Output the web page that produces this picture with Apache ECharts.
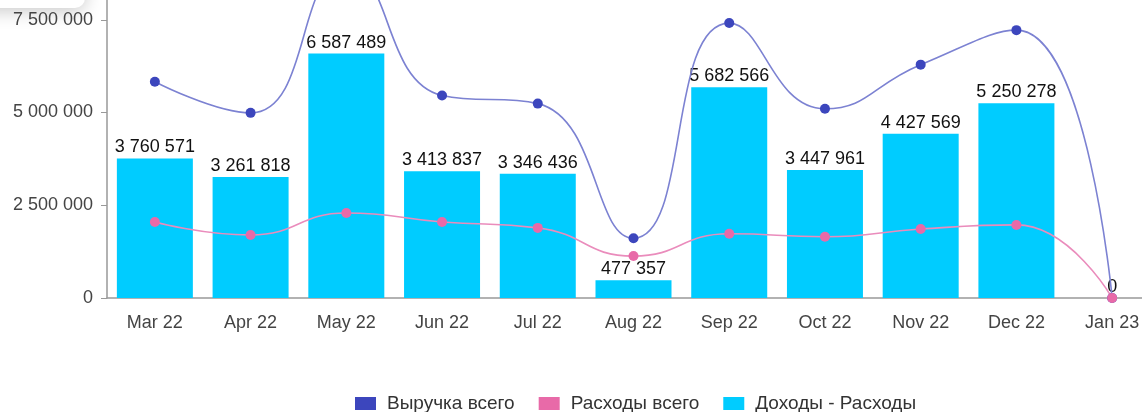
<!DOCTYPE html>
<html>
<head>
<meta charset="utf-8">
<script src="https://cdn.jsdelivr.net/npm/echarts@6/dist/echarts.min.js"></script>
<style>
  html, body { margin: 0; padding: 0; background: #fff; overflow: hidden; width: 1142px; height: 412px; position: relative; }
  /* the reference is a crop: the plot runs past the top and right edges */
  #chart { position: absolute; left: 0; top: -73px; width: 1160px; height: 485px; }
</style>
</head>
<body>
<div id="chart"></div>
<script>
// data
const months = ["Mar 22", "Apr 22", "May 22", "Jun 22", "Jul 22", "Aug 22", "Sep 22", "Oct 22", "Nov 22", "Dec 22", "Jan 23"];
const revenue = [5830000, 4990000, 8880000, 5460000, 5240000, 1610000, 7410000, 5100000, 6290000, 7220000, 0];
const expenses = [2050000, 1700000, 2290000, 2050000, 1890000, 1130000, 1730000, 1650000, 1860000, 1970000, 0];
const profit = [3760571, 3261818, 6587489, 3413837, 3346436, 477357, 5682566, 3447961, 4427569, 5250278, 0];
const seriesNames = ["Выручка всего", "Расходы всего", "Доходы - Расходы"];

const fmt = v => String(Math.round(v)).replace(/\B(?=(\d{3})+(?!\d))/g, " ");
const font = "Liberation Sans, Arial, sans-serif";

const chart = echarts.init(document.getElementById("chart"));
chart.setOption({
  animation: false,
  textStyle: { fontFamily: font },
  grid: { left: 107, right: 0, top: 0, bottom: 114, outerBoundsMode: "none" },
  // faint shadow of an overlapping panel in the top-left corner
  graphic: [{
    type: "rect",
    z: -1,
    shape: { x: -300, y: -200, width: 385, height: 281, r: 10 },
    style: { fill: "#fff", shadowBlur: 18, shadowColor: "rgba(0,0,0,0.22)", shadowOffsetY: 3 }
  }],
  legend: {
    data: seriesNames,
    top: 462,
    left: 350,
    itemWidth: 21,
    itemHeight: 13,
    itemGap: 24,
    icon: "rect",
    textStyle: { fontSize: 19, color: "#333", padding: [0, 0, 0, 6] }
  },
  xAxis: {
    type: "category",
    data: months,
    axisLine: { lineStyle: { color: "#999", width: 1.5 } },
    axisTick: { alignWithLabel: true, length: 6, lineStyle: { color: "#999" } },
    axisLabel: { fontSize: 18, color: "#444", margin: 16 }
  },
  yAxis: {
    type: "value",
    min: 0,
    max: 10000000,
    interval: 2500000,
    splitLine: { show: false },
    axisLine: { show: true, lineStyle: { color: "#999", width: 1.5 } },
    axisTick: { show: true, length: 6, lineStyle: { color: "#999" } },
    axisLabel: { fontSize: 18, color: "#444", margin: 14, formatter: fmt }
  },
  series: [
    {
      name: seriesNames[0],
      type: "line",
      data: revenue,
      smooth: 0.5,
      symbol: "circle",
      symbolSize: 10,
      z: 4,
      itemStyle: { color: "#3c46bd" },
      lineStyle: { color: "#7c82d2", width: 1.6 }
    },
    {
      name: seriesNames[1],
      type: "line",
      data: expenses,
      smooth: 0.5,
      symbol: "circle",
      symbolSize: 10,
      z: 4,
      itemStyle: { color: "#e86aa8" },
      lineStyle: { color: "#ea8cbc", width: 1.6 }
    },
    {
      name: seriesNames[2],
      type: "bar",
      data: profit,
      barWidth: 76,
      z: 2,
      itemStyle: { color: "#00ccff" },
      label: {
        show: true,
        position: "top",
        distance: 2,
        fontSize: 18,
        color: "#111",
        formatter: p => fmt(p.value)
      }
    }
  ]
});
</script>
</body>
</html>
